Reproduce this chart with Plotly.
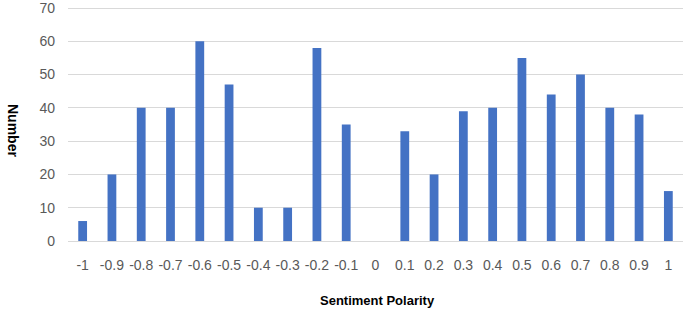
import plotly.graph_objects as go

categories = ["-1", "-0.9", "-0.8", "-0.7", "-0.6", "-0.5", "-0.4", "-0.3", "-0.2", "-0.1", "0",
              "0.1", "0.2", "0.3", "0.4", "0.5", "0.6", "0.7", "0.8", "0.9", "1"]
counts = [6, 20, 40, 40, 60, 47, 10, 10, 58, 35, 0,
          33, 20, 39, 40, 55, 44, 50, 40, 38, 15]
y_ticks = [0, 10, 20, 30, 40, 50, 60, 70]

W, H = 685, 313
L, R, T, B = 68, 2, 5, 72
w_plot = W - L - R
h_plot = H - T - B

fig = go.Figure(go.Bar(x=categories, y=counts, marker=dict(color="#4472C4", line=dict(width=0))))

fig.update_layout(
    width=W, height=H,
    margin=dict(l=L, r=R, t=T, b=B),
    paper_bgcolor="white", plot_bgcolor="white",
    bargap=0.7,
    showlegend=False,
    font=dict(family="Liberation Sans", size=13, color="#595959"),
    xaxis=dict(type="category", showgrid=False, showline=False, ticks="",
               tickfont=dict(size=14, color="#595959"), ticklabelstandoff=14),
    yaxis=dict(range=[0, 70.9], tickvals=y_ticks, showgrid=True, gridcolor="#D9D9D9",
               gridwidth=1, zeroline=True, zerolinecolor="#D9D9D9", zerolinewidth=1,
               tickfont=dict(size=14, color="#595959"), ticks="", ticklabelstandoff=12,
               ticklabeloverflow="allow", automargin=False),
    annotations=[
        dict(text="<b>Number</b>", textangle=90, xref="paper", yref="paper",
             x=(13 - L) / w_plot, y=(H - B - 130) / h_plot, xanchor="center", yanchor="middle",
             showarrow=False, font=dict(size=14, color="black", family="Liberation Sans")),
        dict(text="<b>Sentiment Polarity</b>", xref="paper", yref="paper",
             x=(377 - L) / w_plot, y=(H - B - 300) / h_plot, xanchor="center", yanchor="middle",
             showarrow=False, font=dict(size=13, color="black", family="Liberation Sans")),
    ],
)

fig.write_html("out.html", config={"displayModeBar": False},
               post_script="document.body.style.margin='0';document.body.style.overflow='hidden';")
